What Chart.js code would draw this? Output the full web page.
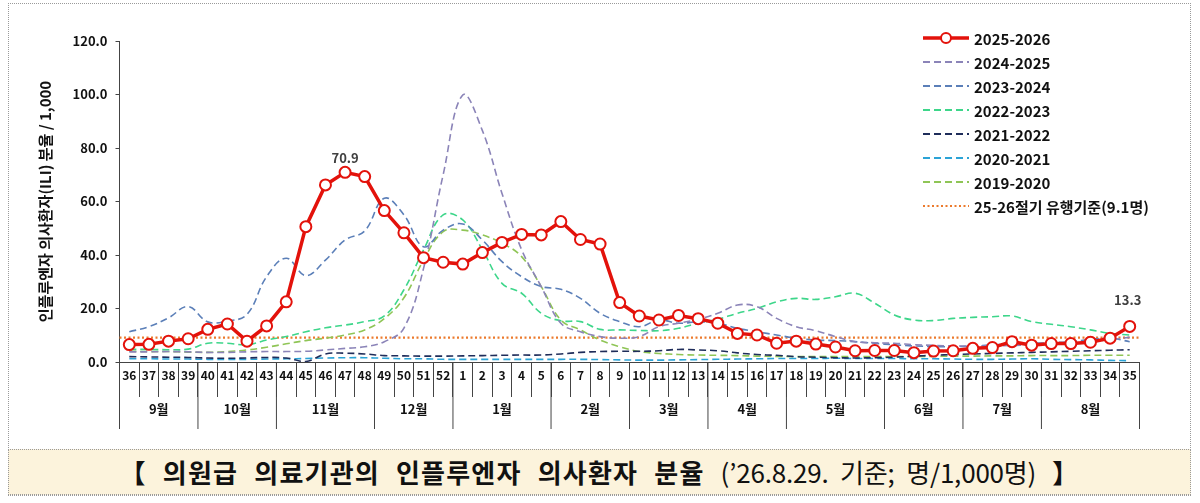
<!DOCTYPE html>
<html>
<head>
<meta charset="UTF-8">
<title>의원급 의료기관의 인플루엔자 의사환자 분율</title>
<script src="https://cdn.jsdelivr.net/npm/chart.js@4.4.1/dist/chart.umd.min.js"></script>
<style>
    body { margin: 0; background: #fff; font-family: "Noto Sans CJK KR", sans-serif; }
    #wrap { position: relative; width: 1200px; height: 503px; overflow: hidden; }
    #frame { position: absolute; left: 8px; top: 3px; width: 1181px; height: 491px; border: 1px dotted #9a9a9a; }
    #chartBox { position: absolute; left: 0; top: 0; width: 1200px; height: 445px; }
    #caption {
        position: absolute; left: 8px; top: 449px; width: 1181px; height: 44px;
        background: #fcf3dc; border: 1px dotted #9a9a9a;
        text-align: center; line-height: 44px; white-space: nowrap;
        font-size: 26px; font-weight: 700; color: #111;
        letter-spacing: 1.2px; word-spacing: 9px;
    }
    #caption .date { font-weight: 400; letter-spacing: -0.2px; word-spacing: 6px; }
</style>
</head>
<body>
<div id="wrap">
    <div id="frame"></div>
    <div id="chartBox"><canvas id="fluChart" width="1200" height="445"></canvas></div>
    <div id="caption">【 의원급 의료기관의 인플루엔자 의사환자 분율 <span class="date">(’26.8.29. 기준; 명/1,000명)</span> 】</div>
</div>

<script>
    // weeks 36..52 then 1..35
    const weeks = ['36','37','38','39','40','41','42','43','44','45','46','47','48','49','50','51','52',
                   '1','2','3','4','5','6','7','8','9','10','11','12','13','14','15','16','17','18','19','20',
                   '21','22','23','24','25','26','27','28','29','30','31','32','33','34','35'];

    const months = ['9월','10월','11월','12월','1월','2월','3월','4월','5월','6월','7월','8월'];
    const monthWeekCount = [4, 4, 5, 4, 5, 4, 4, 4, 5, 4, 4, 5];

    const yTicks = [0, 20, 40, 60, 80, 100, 120];

    const s2526 = [6.5, 6.6, 7.8, 8.7, 12.2, 14.2, 7.8, 13.5, 22.5, 50.6, 66.2, 70.9, 69.3, 56.6, 48.3, 39.0, 37.3,
                   36.6, 40.9, 44.7, 47.7, 47.5, 52.5, 45.8, 44.1, 22.2, 17.2, 15.7, 17.4, 16.2, 14.5, 10.7, 10.1, 7.0, 7.8, 6.7, 5.6,
                   4.2, 4.3, 4.3, 3.5, 4.1, 4.2, 5.1, 5.4, 7.6, 6.3, 6.9, 6.9, 7.4, 8.9, 13.3];
    const s2425 = [3.8, 3.8, 3.9, 3.8, 3.6, 3.6, 3.8, 3.9, 3.9, 4.0, 4.5, 5.1, 5.7, 7.6, 12.7, 35.0, 70.0,
                   99.8, 86.5, 63.0, 42.0, 28.2, 14.5, 11.3, 9.5, 8.9, 9.5, 13.2, 14.5, 16.0, 18.2, 21.3, 20.7, 16.3, 13.2, 11.7, 9.5,
                   7.6, 7.2, 7.0, 6.5, 6.2, 6.0, 6.0, 6.0, 6.2, 6.4, 6.6, 7.0, 7.6, 8.4, 9.2];
    const s2324 = [11.3, 13.2, 16.5, 20.7, 15.0, 15.3, 17.8, 31.9, 38.8, 32.3, 38.1, 45.6, 49.0, 61.2, 55.0, 43.1, 49.3,
                   51.6, 45.6, 37.5, 31.9, 28.2, 27.2, 23.8, 18.2, 15.1, 13.2, 15.7, 14.5, 15.0, 14.5, 12.6, 11.3, 10.1, 8.9, 8.2, 8.0,
                   7.6, 7.0, 6.4, 6.0, 5.8, 5.7, 6.0, 6.4, 6.8, 7.0, 7.2, 7.6, 8.4, 8.9, 7.6];
    const s2223 = [4.7, 4.7, 4.6, 4.8, 7.0, 7.0, 6.4, 8.2, 9.5, 11.3, 12.8, 13.8, 15.1, 17.2, 27.0, 41.9, 55.0,
                   53.1, 42.0, 29.4, 25.7, 18.2, 15.4, 15.1, 12.2, 12.0, 11.8, 11.7, 12.6, 14.5, 16.0, 18.2, 20.0, 22.5, 23.8, 23.4, 24.4,
                   25.7, 22.0, 17.6, 15.7, 15.5, 16.3, 16.7, 16.9, 17.2, 15.1, 14.1, 13.2, 12.0, 10.7, 10.1];
    const s2122 = [2.0, 1.9, 1.8, 1.7, 1.5, 1.4, 1.5, 1.7, 1.5, 0.2, 3.0, 3.3, 3.0, 2.4, 2.3, 2.2, 2.2,
                   2.3, 2.4, 2.5, 2.6, 2.6, 3.0, 3.6, 3.9, 4.0, 4.0, 4.2, 4.7, 4.5, 4.2, 3.4, 2.8, 2.5, 2.0, 1.8, 1.6,
                   1.5, 1.6, 1.8, 2.2, 2.5, 2.8, 3.0, 3.2, 3.4, 3.6, 3.8, 4.0, 4.2, 4.4, 4.6];
    const s2021 = [1.2, 1.2, 1.1, 1.1, 1.0, 1.0, 1.0, 1.1, 1.2, 1.3, 1.5, 1.6, 1.6, 1.4, 1.2, 1.2, 1.0,
                   1.0, 1.0, 1.0, 1.0, 1.0, 1.0, 1.0, 0.9, 0.8, 0.7, 0.7, 0.8, 0.9, 1.0, 1.1, 1.2, 1.3, 1.3, 1.3, 1.4,
                   1.3, 1.3, 1.3, 1.2, 1.2, 1.1, 1.0, 1.0, 1.1, 1.2, 1.0, 0.9, 0.8, 0.6, 0.5];
    const s1920 = [4.0, 3.9, 3.9, 3.7, 3.6, 3.9, 4.5, 5.5, 6.8, 8.0, 8.9, 10.1, 12.0, 16.2, 24.0, 38.1, 48.7,
                   49.3, 47.5, 44.4, 39.4, 28.2, 15.7, 12.0, 8.2, 5.7, 3.9, 3.2, 2.8, 2.6, 2.5, 2.4, 2.2, 2.1, 2.0, 2.0, 2.0,
                   2.0, 2.0, 2.0, 2.1, 2.1, 2.2, 2.2, 2.3, 2.3, 2.4, 2.4, 2.4, 2.5, 2.5, 2.5];

    // epidemic threshold for 25-26 season
    const threshold = 9.1;
    const thresholdLabel = '25-26절기 유행기준(9.1명)';
    // weeks whose value is printed above the point
    const labeledWeeks = ['47', '35'];

    const FONT = '"Noto Sans CJK KR", "Noto Sans", sans-serif';
    const AXIS = '#444';

    function dashed(label, data, color) {
        return {
            label: label, data: data,
            borderColor: color, backgroundColor: color,
            borderWidth: 1.6, borderDash: [7, 4],
            pointRadius: 0, tension: 0.4, fill: false
        };
    }

    // threshold line, month row, value labels and the legend
    const extras = {
        id: 'extras',
        beforeDatasetsDraw(chart) {
            const ctx = chart.ctx, area = chart.chartArea;
            const y = chart.scales.y.getPixelForValue(threshold);
            ctx.save();
            ctx.strokeStyle = '#ec7a2c';
            ctx.lineWidth = 2.2;
            ctx.setLineDash([2, 2.5]);
            ctx.beginPath();
            ctx.moveTo(area.left, y);
            ctx.lineTo(area.right, y);
            ctx.stroke();
            ctx.restore();
        },
        afterDraw(chart) {
            const ctx = chart.ctx;
            const xs = chart.scales.x;
            const step = xs.getPixelForValue(1) - xs.getPixelForValue(0);
            const top = xs.top;

            ctx.save();
            // month separators + labels
            ctx.strokeStyle = AXIS;
            ctx.lineWidth = 1;
            ctx.fillStyle = '#111';
            ctx.font = 'bold 13px ' + FONT;
            ctx.textAlign = 'center';
            ctx.textBaseline = 'middle';
            let start = 0;
            for (let i = 0; i < months.length; i++) {
                const left = xs.getPixelForValue(start) - step / 2;
                const right = xs.getPixelForValue(start + monthWeekCount[i] - 1) + step / 2;
                ctx.beginPath();
                ctx.moveTo(left, top);
                ctx.lineTo(left, top + 67);
                if (i === months.length - 1) {
                    ctx.moveTo(right, top);
                    ctx.lineTo(right, top + 67);
                }
                ctx.stroke();
                ctx.fillText(months[i], (left + right) / 2, top + 47);
                start += monthWeekCount[i];
            }

            // value labels on 2025-2026
            const meta = chart.getDatasetMeta(0);
            ctx.fillStyle = '#404040';
            ctx.font = 'bold 13px ' + FONT;
            ctx.textBaseline = 'bottom';
            labeledWeeks.forEach(w => {
                const i = weeks.indexOf(w);
                const pt = meta.data[i];
                const lift = i === weeks.length - 1 ? 20 : 8;
                ctx.fillText(s2526[i].toFixed(1), pt.x - (i === weeks.length - 1 ? 2 : 0), pt.y - lift);
            });

            // legend
            const lx = 923, lw = 46, tx = 974;
            let ly = 38;
            ctx.font = 'bold 15px ' + FONT;
            ctx.textAlign = 'left';
            ctx.textBaseline = 'middle';
            chart.data.datasets.forEach((ds, k) => {
                ctx.strokeStyle = ds.borderColor;
                ctx.lineWidth = k === 0 ? 3.5 : 2;
                ctx.setLineDash(ds.borderDash || []);
                ctx.beginPath();
                ctx.moveTo(lx, ly);
                ctx.lineTo(lx + lw, ly);
                ctx.stroke();
                ctx.setLineDash([]);
                if (k === 0) {
                    ctx.beginPath();
                    ctx.arc(lx + lw / 2, ly, 5, 0, Math.PI * 2);
                    ctx.fillStyle = '#fff';
                    ctx.fill();
                    ctx.lineWidth = 2;
                    ctx.stroke();
                }
                ctx.fillStyle = '#111';
                ctx.fillText(ds.label, tx, ly + 1);
                ly += 24;
            });
            ctx.strokeStyle = '#ec7a2c';
            ctx.lineWidth = 2;
            ctx.setLineDash([2, 2.5]);
            ctx.beginPath();
            ctx.moveTo(lx, ly);
            ctx.lineTo(lx + lw, ly);
            ctx.stroke();
            ctx.setLineDash([]);
            ctx.fillStyle = '#111';
            ctx.fillText(thresholdLabel, tx, ly + 1);
            ctx.restore();
        }
    };

    const ctx = document.getElementById('fluChart').getContext('2d');
    new Chart(ctx, {
        type: 'line',
        data: {
            labels: weeks,
            datasets: [
                {
                    label: '2025-2026', data: s2526,
                    borderColor: '#e3120b', backgroundColor: '#e3120b',
                    borderWidth: 3.5, tension: 0,
                    pointRadius: 5.5, pointBorderWidth: 2,
                    pointBackgroundColor: '#fff', pointBorderColor: '#e3120b'
                },
                dashed('2024-2025', s2425, '#8b84b8'),
                dashed('2023-2024', s2324, '#5b7fb8'),
                dashed('2022-2023', s2223, '#3dd68a'),
                dashed('2021-2022', s2122, '#1f2d5a'),
                dashed('2020-2021', s2021, '#2ba3d6'),
                dashed('2019-2020', s1920, '#8fc556')
            ]
        },
        options: {
            responsive: false,
            animation: false,
            layout: { padding: { left: 30, top: 41, right: 60.5, bottom: 0 } },
            plugins: {
                legend: { display: false },
                tooltip: { enabled: false }
            },
            scales: {
                x: {
                    offset: true,
                    grid: { offset: true, drawOnChartArea: false, drawTicks: true, tickLength: 35, color: AXIS },
                    border: { display: true, color: AXIS },
                    ticks: {
                        autoSkip: false, maxRotation: 0, padding: -29,
                        color: '#111', font: { family: FONT, size: 12, weight: 'bold' }
                    },
                    afterFit(scale) { scale.height = 83; }
                },
                y: {
                    min: 0, max: 120,
                    afterBuildTicks(scale) { scale.ticks = yTicks.map(v => ({ value: v })); },
                    grid: { drawOnChartArea: false, drawTicks: true, tickLength: 4, color: AXIS },
                    border: { display: true, color: AXIS },
                    ticks: {
                        padding: 8, color: '#111',
                        font: { family: FONT, size: 13, weight: 'bold' },
                        callback: v => v.toFixed(1)
                    },
                    title: {
                        display: true, text: '인플루엔자 의사환자(ILI) 분율 / 1,000',
                        color: '#111', padding: { top: 6, bottom: 0 },
                        font: { family: FONT, size: 15, weight: 'bold' }
                    },
                    afterFit(scale) { scale.width = 89.5; }
                }
            }
        },
        plugins: [extras]
    });
</script>
</body>
</html>
